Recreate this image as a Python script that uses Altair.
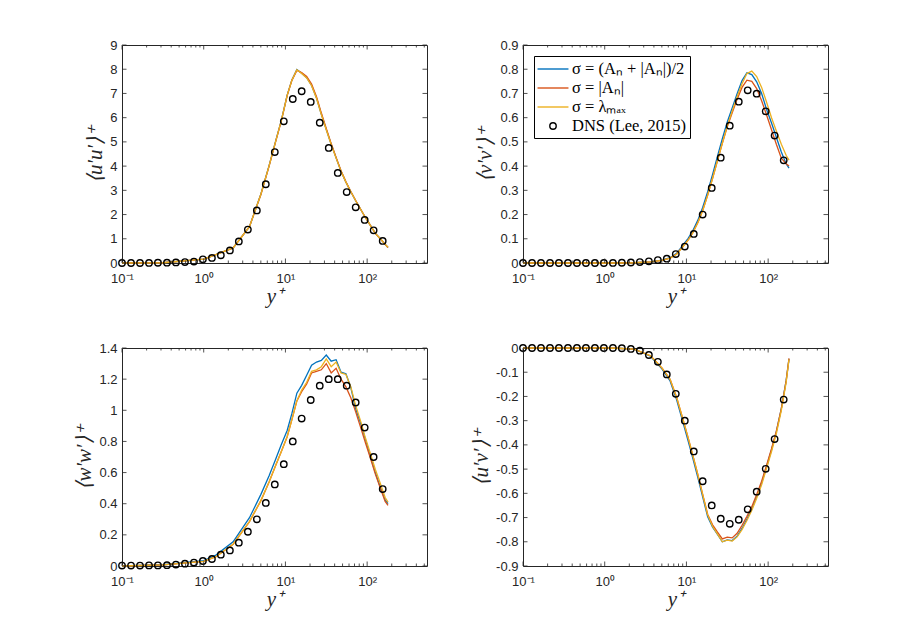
import altair as alt
import pandas as pd

# ---------------- data ----------------
SERIES = ["σ = (Aₙ + |Aₙ|)/2", "σ = |Aₙ|", "σ = λₘₐₓ", "DNS (Lee, 2015)"]
COLORS = ["#0072BD", "#D95319", "#EDB120", "#000000"]
SHAPES = ["M-1.69,0H1.69", "M-1.69,0H1.69", "M-1.69,0H1.69",
          "M0.35,0A0.35,0.35,0,1,1,-0.35,0A0.35,0.35,0,1,1,0.35,0Z"]

X_DOMAIN = [0.1, 540]
X_MAJOR = [0.1, 1, 10, 100]
X_LABELS = ["10⁻¹", "10⁰", "10¹", "10²"]
X_MINOR = [0.2, 0.3, 0.4, 0.5, 0.6, 0.7, 0.8, 0.9,
           2, 3, 4, 5, 6, 7, 8, 9,
           20, 30, 40, 50, 60, 70, 80, 90,
           200, 300, 400, 500]

YP_MODEL = [0.1, 0.316, 1.0, 1.41, 2.29, 3.63, 5.01, 6.31, 7.59, 8.91,
            10.5, 12.0, 13.8, 15.8, 18.2, 20.9, 24.0, 27.5, 31.6, 36.3,
            41.7, 47.9, 55.0, 63.1, 72.4, 83.2, 95.5, 110.0, 126.0, 145.0,
            166.0, 180.0]

YP_DNS = [0.1, 0.129, 0.166, 0.214, 0.275, 0.355, 0.457, 0.589, 0.759, 0.977,
          1.26, 1.62, 2.09, 2.69, 3.47, 4.47, 5.75, 7.41, 9.55, 12.3,
          15.8, 20.4, 26.3, 33.9, 43.7, 56.2, 72.4, 93.3, 120.0, 155.0]

UU_BLUE = [0.0, 0.01, 0.16, 0.35, 0.62, 1.50, 2.85, 4.02, 5.03, 5.89,
           6.93, 7.56, 7.99, 7.83, 7.65, 7.33, 6.81, 6.14, 5.51, 4.90,
           4.34, 3.79, 3.34, 2.94, 2.57, 2.22, 1.87, 1.54, 1.22, 1.00,
           0.77, 0.64]
UU_RED = [0.0, 0.01, 0.16, 0.35, 0.62, 1.50, 2.83, 4.00, 5.01, 5.87,
          6.91, 7.54, 7.95, 7.86, 7.70, 7.39, 6.87, 6.19, 5.55, 4.93,
          4.36, 3.81, 3.35, 2.95, 2.58, 2.22, 1.87, 1.54, 1.22, 1.00,
          0.77, 0.64]
UU_YELLOW = [0.0, 0.01, 0.16, 0.35, 0.62, 1.50, 2.84, 4.01, 5.02, 5.88,
             6.92, 7.55, 7.98, 7.82, 7.64, 7.32, 6.80, 6.13, 5.50, 4.89,
             4.33, 3.79, 3.34, 2.94, 2.57, 2.22, 1.87, 1.54, 1.22, 1.00,
             0.77, 0.65]
DNS_UU = [0.0, 0.0, 0.0, 0.005, 0.01, 0.015, 0.025, 0.04, 0.06, 0.15,
          0.21, 0.32, 0.52, 0.89, 1.38, 2.17, 3.25, 4.58, 5.85, 6.77,
          7.09, 6.65, 5.79, 4.75, 3.72, 2.93, 2.30, 1.78, 1.35, 0.91]

VV_BLUE = [0.0, 0.0, 0.0, 0.0, 0.001, 0.005, 0.012, 0.022, 0.04, 0.071,
           0.102, 0.134, 0.177, 0.229, 0.294, 0.366, 0.441, 0.513, 0.582, 0.640,
           0.699, 0.753, 0.785, 0.778, 0.748, 0.70, 0.635, 0.578, 0.519, 0.458,
           0.41, 0.392]
VV_RED = [0.0, 0.0, 0.0, 0.0, 0.001, 0.005, 0.011, 0.02, 0.037, 0.065,
          0.095, 0.126, 0.167, 0.217, 0.28, 0.35, 0.423, 0.494, 0.562, 0.62,
          0.676, 0.725, 0.755, 0.75, 0.72, 0.67, 0.612, 0.55, 0.49, 0.433,
          0.41, 0.40]
VV_YELLOW = [0.0, 0.0, 0.0, 0.0, 0.001, 0.005, 0.011, 0.02, 0.036, 0.064,
             0.094, 0.125, 0.166, 0.216, 0.28, 0.35, 0.423, 0.495, 0.565, 0.627,
             0.686, 0.74, 0.782, 0.792, 0.77, 0.725, 0.665, 0.60, 0.545, 0.49,
             0.445, 0.425]
DNS_VV = [0.0, 0.0, 0.0, 0.0, 0.0, 0.0, 0.0, 0.0, 0.0, 0.0,
          0.0005, 0.001, 0.002, 0.004, 0.007, 0.012, 0.018, 0.037, 0.068, 0.12,
          0.20, 0.31, 0.435, 0.567, 0.666, 0.713, 0.699, 0.626, 0.526, 0.424]

WW_BLUE = [0.0, 0.008, 0.035, 0.07, 0.155, 0.31, 0.46, 0.58, 0.686, 0.78,
           0.87, 0.98, 1.11, 1.16, 1.225, 1.29, 1.31, 1.32, 1.355, 1.315,
           1.325, 1.245, 1.235, 1.146, 1.01, 0.917, 0.81, 0.70, 0.60, 0.506,
           0.425, 0.40]
WW_RED = [0.0, 0.007, 0.03, 0.06, 0.14, 0.285, 0.42, 0.54, 0.645, 0.735,
          0.83, 0.94, 1.06, 1.12, 1.17, 1.24, 1.25, 1.26, 1.30, 1.24,
          1.27, 1.20, 1.15, 1.08, 0.99, 0.89, 0.79, 0.69, 0.59, 0.50,
          0.415, 0.39]
WW_YELLOW = [0.0, 0.007, 0.03, 0.06, 0.14, 0.285, 0.42, 0.54, 0.645, 0.735,
             0.83, 0.94, 1.06, 1.13, 1.18, 1.25, 1.26, 1.28, 1.33, 1.28,
             1.31, 1.24, 1.23, 1.15, 1.03, 0.93, 0.82, 0.72, 0.62, 0.53,
             0.44, 0.41]
DNS_WW = [0.003, 0.003, 0.003, 0.004, 0.004, 0.005, 0.009, 0.015, 0.022, 0.032,
          0.045, 0.073, 0.10, 0.15, 0.22, 0.30, 0.405, 0.524, 0.654, 0.80,
          0.947, 1.066, 1.158, 1.20, 1.20, 1.158, 1.05, 0.889, 0.70, 0.494]

UV_BLUE = [0.0, 0.0, 0.0, -0.001, -0.005, -0.034, -0.086, -0.136, -0.214, -0.298,
           -0.384, -0.457, -0.535, -0.615, -0.697, -0.74, -0.77, -0.80, -0.792, -0.795,
           -0.777, -0.745, -0.706, -0.664, -0.612, -0.557, -0.49, -0.42, -0.345, -0.25,
           -0.135, -0.045]
UV_RED = [0.0, 0.0, 0.0, -0.001, -0.005, -0.032, -0.082, -0.129, -0.204, -0.286,
          -0.371, -0.444, -0.523, -0.604, -0.687, -0.73, -0.76, -0.788, -0.781, -0.784,
          -0.765, -0.732, -0.695, -0.655, -0.605, -0.55, -0.485, -0.416, -0.343, -0.25,
          -0.136, -0.043]
UV_YELLOW = [0.0, 0.0, 0.0, -0.001, -0.005, -0.032, -0.082, -0.129, -0.204, -0.286,
             -0.371, -0.444, -0.523, -0.604, -0.689, -0.737, -0.768, -0.80, -0.793, -0.797,
             -0.78, -0.75, -0.712, -0.67, -0.62, -0.565, -0.498, -0.428, -0.353, -0.258,
             -0.142, -0.047]
DNS_UV = [0.0, 0.0, 0.0, 0.0, 0.0, 0.0, 0.0, 0.0, 0.0, 0.0,
          0.0, -0.001, -0.004, -0.011, -0.029, -0.057, -0.109, -0.189, -0.30, -0.427,
          -0.55, -0.65, -0.705, -0.726, -0.709, -0.666, -0.593, -0.499, -0.376, -0.213]

Y_TITLES = ["⟨u′u′⟩⁺", "⟨v′v′⟩⁺", "⟨w′w′⟩⁺", "⟨u′v′⟩⁺"]
Y_DOMAINS = [[0, 9], [0, 0.9], [0, 1.4], [-0.9, 0]]
Y_TICKS = [
    [0, 1, 2, 3, 4, 5, 6, 7, 8, 9],
    [0, 0.1, 0.2, 0.3, 0.4, 0.5, 0.6, 0.7, 0.8, 0.9],
    [0, 0.2, 0.4, 0.6, 0.8, 1.0, 1.2, 1.4],
    [-0.9, -0.8, -0.7, -0.6, -0.5, -0.4, -0.3, -0.2, -0.1, 0],
]

AX = "#262626"
W, H = 305, 218
MAJ, MIN = 4.5, 2.5

X_EXPR = " : ".join(f"datum.value == {v} ? '{l}'" for v, l in zip(X_MAJOR, X_LABELS)) + " : ''"
Y_EXPR = "replace(format(datum.value, '~g'), '\u2212', '-')"


def panel(idx, blue, red, yellow, dns, show_legend):
    rows = []
    for name, vals in zip(SERIES[:3], (blue, red, yellow)):
        for x, v in zip(YP_MODEL, vals):
            rows.append({"yplus": x, "val": v, "series": name})
    model = pd.DataFrame(rows)
    pts = pd.DataFrame({"yplus": YP_DNS, "val": dns, "series": SERIES[3]})

    xs = alt.Scale(type="log", domain=X_DOMAIN, nice=False, padding=0)
    ys = alt.Scale(domain=Y_DOMAINS[idx], nice=False, zero=False, padding=0)
    xax = alt.Axis(values=X_MAJOR, labelExpr=X_EXPR, ticks=False, domain=False,
                   grid=False, title="y⁺", labelPadding=9, titlePadding=0,
                   labelFlush=False)
    yax = alt.Axis(values=Y_TICKS[idx], labelExpr=Y_EXPR, ticks=False, domain=False,
                   grid=False, title=Y_TITLES[idx], labelPadding=5, titlePadding=4,
                   labelFlush=False)

    def X(field):
        return alt.X(field, type="quantitative", scale=xs, axis=xax)

    def Y(field):
        return alt.Y(field, type="quantitative", scale=ys, axis=yax)

    if show_legend:
        leg = alt.Legend(title=None, orient="top-left", offset=11,
                         strokeColor="black", fillColor="white", padding=3,
                         labelFont="Liberation Serif", labelFontSize=16.5,
                         labelColor="black", symbolSize=335, symbolStrokeWidth=1.4,
                         symbolOffset=6, labelOffset=9, rowPadding=0)
    else:
        leg = None

    color = alt.Color("series:N", scale=alt.Scale(domain=SERIES, range=COLORS), legend=leg)
    shape = alt.Shape("series:N", scale=alt.Scale(domain=SERIES, range=SHAPES), legend=leg)

    lines = alt.Chart(model).mark_line(strokeWidth=1.3).encode(
        x=X("yplus"), y=Y("val"), color=color)
    points = alt.Chart(pts).mark_point(filled=False, size=335, strokeWidth=1.4,
                                       opacity=1).encode(
        x=X("yplus"), y=Y("val"), color=color, shape=shape)

    layers = [lines, points]
    for vals, ln in ((X_MAJOR, MAJ), (X_MINOR, MIN)):
        df = pd.DataFrame({"yplus": vals})
        base = alt.Chart(df).mark_rule(color=AX, strokeWidth=0.8)
        layers.append(base.encode(x=X("yplus"), y=alt.value(H), y2=alt.value(H - ln)))
        layers.append(base.encode(x=X("yplus"), y=alt.value(0), y2=alt.value(ln)))
    dfy = pd.DataFrame({"val": Y_TICKS[idx]})
    basey = alt.Chart(dfy).mark_rule(color=AX, strokeWidth=0.8)
    layers.append(basey.encode(y=Y("val"), x=alt.value(0), x2=alt.value(MAJ)))
    layers.append(basey.encode(y=Y("val"), x=alt.value(W), x2=alt.value(W - MAJ)))

    return alt.layer(*layers).properties(width=W, height=H)


p1 = panel(0, UU_BLUE, UU_RED, UU_YELLOW, DNS_UU, False)
p2 = panel(1, VV_BLUE, VV_RED, VV_YELLOW, DNS_VV, True)
p3 = panel(2, WW_BLUE, WW_RED, WW_YELLOW, DNS_WW, False)
p4 = panel(3, UV_BLUE, UV_RED, UV_YELLOW, DNS_UV, False)

chart = alt.concat(
    p1, p2, p3, p4, columns=2, spacing={"row": 85, "column": 96}, bounds="flush"
).resolve_scale(
    color="independent", shape="independent"
).properties(
    padding={"left": 65, "top": 30, "right": 5, "bottom": 5}
).configure_view(
    stroke=AX, strokeWidth=1
).configure_axis(
    labelFont="Liberation Sans", labelFontSize=13, labelColor=AX,
    titleFont="Liberation Serif", titleFontSize=21, titleFontStyle="italic",
    titleFontWeight="normal", titleColor=AX
)

chart.save("out.html", embed_options={"renderer": "svg", "actions": False})
